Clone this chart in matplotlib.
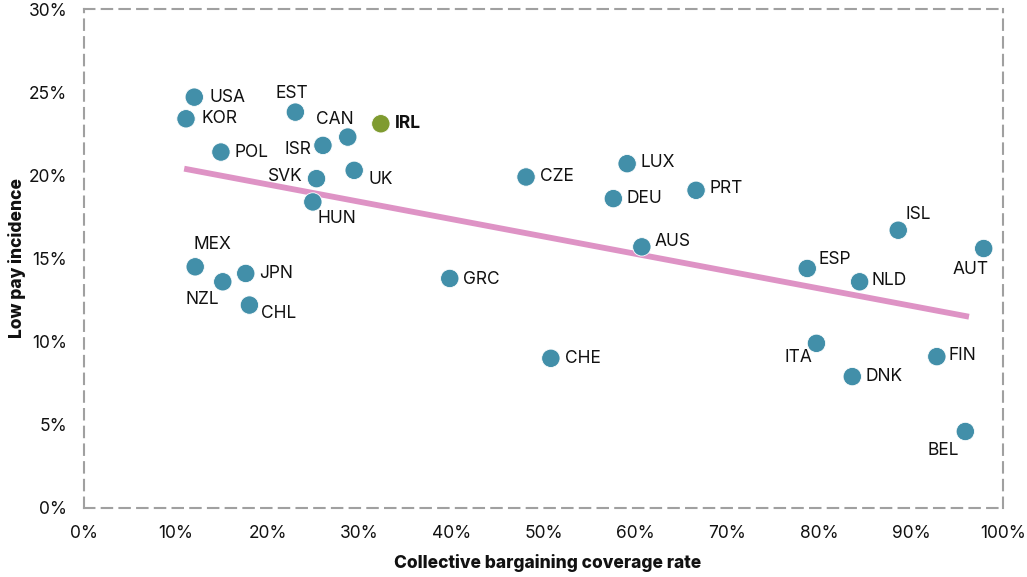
import matplotlib
matplotlib.use("Agg")
import matplotlib.pyplot as plt
from matplotlib.ticker import PercentFormatter

# ---- data ----
countries = ["USA", "KOR", "POL", "EST", "CAN", "ISR", "SVK", "UK", "HUN", "IRL",
             "MEX", "NZL", "JPN", "CHL", "GRC", "CHE", "CZE", "LUX", "DEU", "PRT",
             "AUS", "ESP", "NLD", "ISL", "AUT", "ITA", "DNK", "FIN", "BEL"]
coverage = [12.0, 11.1, 14.9, 23.0, 28.7, 26.0, 25.3, 29.4, 24.9, 32.3,
            12.1, 15.1, 17.6, 18.0, 39.8, 50.8, 48.1, 59.1, 57.6, 66.6,
            60.7, 78.7, 84.4, 88.6, 97.9, 79.7, 83.6, 92.8, 95.9]
low_pay = [24.7, 23.4, 21.4, 23.8, 22.3, 21.8, 19.8, 20.3, 18.4, 23.1,
           14.5, 13.6, 14.1, 12.2, 13.8, 9.0, 19.9, 20.7, 18.6, 19.1,
           15.7, 14.4, 13.6, 16.7, 15.6, 9.9, 7.9, 9.1, 4.6]
highlight = "IRL"

trend_x = [10.9, 96.3]
trend_y = [20.4, 11.5]

x_ticks = [0, 10, 20, 30, 40, 50, 60, 70, 80, 90, 100]
y_ticks = [0, 5, 10, 15, 20, 25, 30]

# label placement: (dx px, dy px, ha, va) -- dy positive = up
label_pos = {
    "USA": (15, 0, "left", "center"),
    "KOR": (15, 0, "left", "center"),
    "POL": (14, 0, "left", "center"),
    "EST": (-3, 19, "center", "center"),
    "CAN": (-13, 18, "center", "center"),
    "ISR": (-12, -4, "right", "center"),
    "SVK": (-14, 2, "right", "center"),
    "UK": (14, -9, "left", "center"),
    "HUN": (5, -17, "left", "center"),
    "IRL": (14, 0, "left", "center"),
    "MEX": (-2, 22, "left", "center"),
    "NZL": (-20, -18, "center", "center"),
    "JPN": (13, 0, "left", "center"),
    "CHL": (12, -8, "left", "center"),
    "GRC": (13, -1, "left", "center"),
    "CHE": (14, 0, "left", "center"),
    "CZE": (14, 0, "left", "center"),
    "LUX": (13, 1, "left", "center"),
    "DEU": (13, 0, "left", "center"),
    "PRT": (13, 2, "left", "center"),
    "AUS": (13, 5, "left", "center"),
    "ESP": (11, 9, "left", "center"),
    "NLD": (12, 1, "left", "center"),
    "ISL": (7, 16, "left", "center"),
    "AUT": (-13, -21, "center", "center"),
    "ITA": (-18, -14, "center", "center"),
    "DNK": (13, 0, "left", "center"),
    "FIN": (12, 1, "left", "center"),
    "BEL": (-22, -19, "center", "center"),
}

teal = "#428FA9"
green = "#7F9B30"
pink = "#DE93C5"
grid_gray = "#A0A0A0"

plt.rcParams["font.family"] = ["Inter", "DejaVu Sans"]

fig = plt.figure(figsize=(10.27, 5.77), dpi=100)
ax = fig.add_axes([84 / 1027, 1 - 508 / 577, (1003 - 84) / 1027, (508 - 9) / 577])

ax.plot(trend_x, trend_y, color=pink, lw=4.2, solid_capstyle="butt", zorder=2)

colors = [green if c == highlight else teal for c in countries]
ax.scatter(coverage, low_pay, s=175, c=colors, edgecolors="white", linewidths=0.6, zorder=3)

px2pt = 72 / 100
for c, x, y in zip(countries, coverage, low_pay):
    dx, dy, ha, va = label_pos[c]
    ax.annotate(c, (x, y), xytext=(dx * px2pt, dy * px2pt), textcoords="offset points",
                ha=ha, va=va, fontsize=12.5, color="#111111",
                fontweight="bold" if c == highlight else "normal", zorder=4)

ax.set_xlim(0, 100)
ax.set_ylim(0, 30)
ax.set_xticks(x_ticks)
ax.set_yticks(y_ticks)
ax.xaxis.set_major_formatter(PercentFormatter(decimals=0))
ax.yaxis.set_major_formatter(PercentFormatter(decimals=0))
ax.tick_params(axis="both", length=0, labelsize=12.5, colors="#111111")
ax.tick_params(axis="x", pad=12)
ax.tick_params(axis="y", pad=12)

for s in ax.spines.values():
    s.set_color(grid_gray)
    s.set_linewidth(1.5)
    s.set_linestyle((0, (5, 3.5)))

ax.set_xlabel("Collective bargaining coverage rate", fontsize=12.5, fontweight="heavy",
              color="#111111")
ax.set_ylabel("Low pay incidence", fontsize=12.5, fontweight="heavy", color="#111111")
ax.xaxis.set_label_coords((548 - 84) / 919, (508 - 563) / 499)
ax.yaxis.set_label_coords((17 - 84) / 919, (508 - 258) / 499)
ax.xaxis.label.set_va("center")
ax.yaxis.label.set_va("center")

fig.savefig("out.png", dpi=100)
